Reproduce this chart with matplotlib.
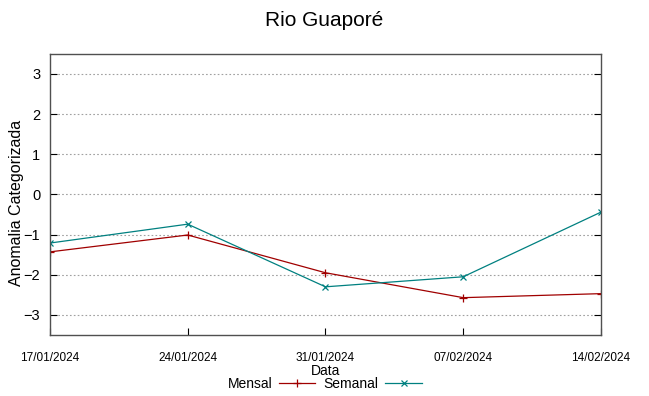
import matplotlib.pyplot as plt
import matplotlib.dates as mdates
import pandas as pd

datas = ['2024-01-17', '2024-01-24', '2024-01-31', '2024-02-07', '2024-02-14']
mensal = [-1.43, -1.01, -1.95, -2.57, -2.47]
semanal = [-1.21, -0.74, -2.30, -2.05, -0.44]
yticks = [-3, -2, -1, 0, 1, 2, 3]


def main():
    plt.rcParams['font.family'] = ['Liberation Sans', 'DejaVu Sans']

    fig = plt.figure(figsize=(6.49, 3.96), dpi=100)
    ax = fig.add_axes([0.077, 0.154, 0.849, 0.710])

    x = pd.to_datetime(datas)
    ax.plot(x, mensal, color='#a00000', linewidth=0.9, marker='+', markersize=6,
            markeredgewidth=0.9, label='Mensal')
    ax.plot(x, semanal, color='#008080', linewidth=0.9, marker='x', markersize=5,
            markeredgewidth=0.9, label='Semanal')

    ax.set_xlim(x[0], x[-1])
    ax.set_ylim(-3.5, 3.5)
    ax.set_xticks(x)
    ax.xaxis.set_major_formatter(mdates.DateFormatter('%d/%m/%Y'))
    ax.set_yticks(yticks)

    ax.tick_params(axis='x', direction='in', labelsize=8.5, pad=12, length=5)
    ax.tick_params(axis='y', direction='in', labelsize=10.5, right=True, length=5, pad=7)
    for s in ax.spines.values():
        s.set_color('#505050')
        s.set_linewidth(1)

    ax.grid(axis='y', linestyle=(0, (1.5, 2)), color='#a0a0a0', linewidth=0.8)

    fig.suptitle('Rio Guaporé', fontsize=15, y=0.972)
    ax.set_ylabel('Anomalia Categorizada', fontsize=11.5)
    ax.yaxis.set_label_coords(-0.048, 0.47)
    ax.set_xlabel('Data', fontsize=10, labelpad=0)

    fig.legend(loc='center', bbox_to_anchor=(0.5, 0.031), ncol=2, frameon=False,
               markerfirst=False, fontsize=10, handlelength=2.6,
               columnspacing=0.6, handletextpad=0.5)

    fig.savefig('out.png', dpi=100)


if __name__ == '__main__':
    main()
